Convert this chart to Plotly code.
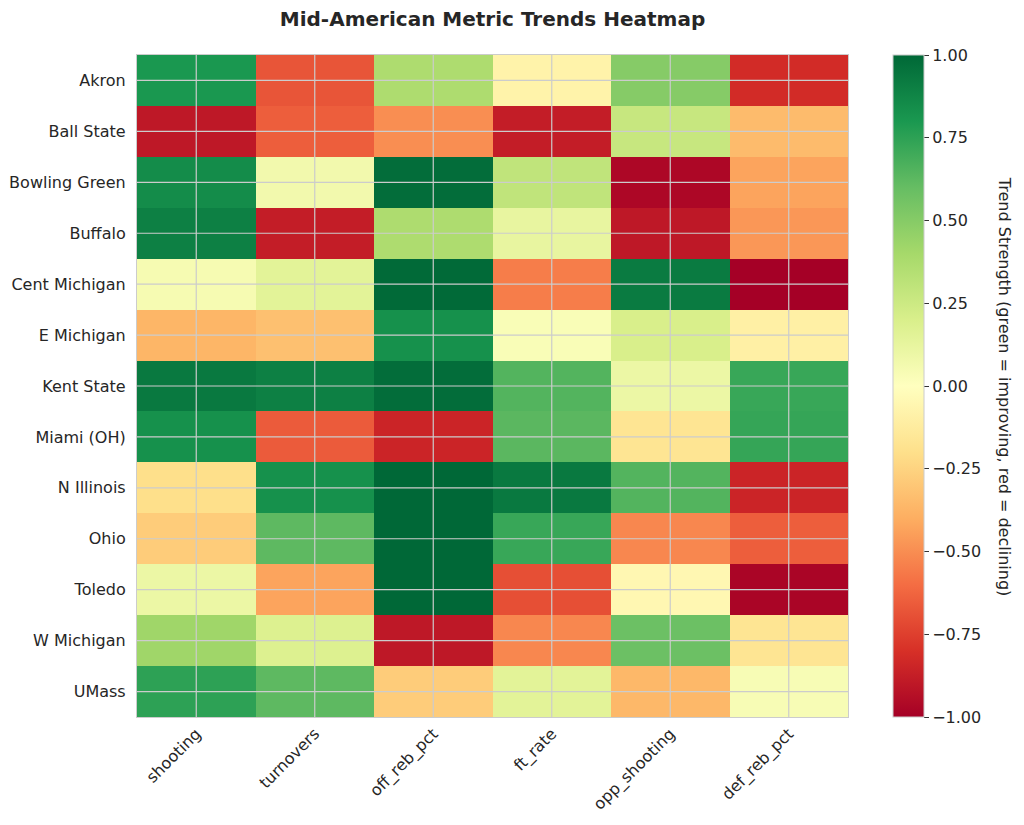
import plotly.graph_objects as go

teams = ["Akron", "Ball State", "Bowling Green", "Buffalo", "Cent Michigan", "E Michigan",
         "Kent State", "Miami (OH)", "N Illinois", "Ohio", "Toledo", "W Michigan", "UMass"]
metrics = ["shooting", "turnovers", "off_reb_pct", "ft_rate", "opp_shooting", "def_reb_pct"]

shooting     = [0.80, -0.90, 0.85, 0.90, 0.05, -0.37, 0.93, 0.83, -0.20, -0.28, 0.10, 0.42, 0.75]
turnovers    = [-0.68, -0.65, 0.07, -0.88, 0.15, -0.33, 0.90, -0.66, 0.83, 0.62, -0.43, 0.18, 0.62]
off_reb_pct  = [0.37, -0.50, 0.98, 0.37, 0.99, 0.83, 0.98, -0.85, 1.00, 1.00, 1.00, -0.90, -0.28]
ft_rate      = [-0.08, -0.88, 0.30, 0.12, -0.55, 0.03, 0.65, 0.63, 0.93, 0.72, -0.70, -0.52, 0.15]
opp_shooting = [0.50, 0.27, -0.97, -0.90, 0.92, 0.20, 0.10, -0.17, 0.65, -0.52, -0.05, 0.58, -0.36]
def_reb_pct  = [-0.82, -0.35, -0.43, -0.47, -1.00, -0.10, 0.72, 0.73, -0.85, -0.65, -0.98, -0.17, 0.04]

columns = [shooting, turnovers, off_reb_pct, ft_rate, opp_shooting, def_reb_pct]
z = [[col[i] for col in columns] for i in range(len(teams))]

rdylgn = [
    [0.0, "#a50026"], [0.1, "#d73027"], [0.2, "#f46d43"], [0.3, "#fdae61"],
    [0.4, "#fee08b"], [0.5, "#ffffbf"], [0.6, "#d9ef8b"], [0.7, "#a6d96a"],
    [0.8, "#66bd63"], [0.9, "#1a9850"], [1.0, "#006837"],
]

FONT = "DejaVu Sans"
TXT = "#262626"
FS = 16

fig = go.Figure(go.Heatmap(
    z=z, x=metrics, y=teams, zmin=-1, zmax=1, colorscale=rdylgn,
    xgap=0, ygap=0,
    colorbar=dict(
        x=1.063, xanchor="left", xpad=0, y=0.5, yanchor="middle", ypad=0,
        len=1.0, lenmode="fraction",
        thickness=31, outlinewidth=1, outlinecolor="#cccccc",
        tickvals=[-1, -0.75, -0.5, -0.25, 0, 0.25, 0.5, 0.75, 1],
        ticktext=["\u22121.00", "\u22120.75", "\u22120.50", "\u22120.25", "0.00", "0.25", "0.50", "0.75", "1.00"],
        ticks="outside", ticklen=5, tickcolor="#333333",
        tickfont=dict(family=FONT, size=FS, color=TXT),
    ),
))

shapes = []
for i in range(len(metrics)):
    shapes.append(dict(type="line", xref="x", yref="paper", x0=i, x1=i, y0=0, y1=1,
                       line=dict(color="#cccccc", width=1.2), layer="above"))
for j in range(len(teams)):
    shapes.append(dict(type="line", xref="paper", yref="y", x0=0, x1=1, y0=j, y1=j,
                       line=dict(color="#cccccc", width=1.2), layer="above"))

fig.update_layout(
    width=1024, height=825,
    margin=dict(l=129, r=184, t=47, b=116, autoexpand=False),
    paper_bgcolor="white", plot_bgcolor="white",
    font=dict(family=FONT, size=FS, color=TXT),
    title=dict(text="<b>Mid-American Metric Trends Heatmap</b>", x=0.5, xref="paper",
               xanchor="center", y=1 - 11 / 825, yref="container", yanchor="middle",
               font=dict(size=20, color=TXT)),
    shapes=shapes,
    annotations=[dict(text="Trend Strength (green = improving, red = declining)",
                      xref="paper", yref="paper", x=1.221, xanchor="center",
                      y=0.5, yanchor="middle", showarrow=False,
                      textangle=90, font=dict(family=FONT, size=FS, color=TXT))],
)
fig.update_xaxes(showgrid=False, tickangle=-45, ticks="", showline=True, mirror=True,
                 linecolor="#cccccc", linewidth=1.2, tickfont=dict(size=FS), automargin=False)
fig.update_yaxes(showgrid=False, autorange="reversed", ticks="", showline=True, mirror=True,
                 linecolor="#cccccc", linewidth=1.2, tickfont=dict(size=FS),
                 ticklabelstandoff=7, automargin=False)

fig.write_html("out.html")
